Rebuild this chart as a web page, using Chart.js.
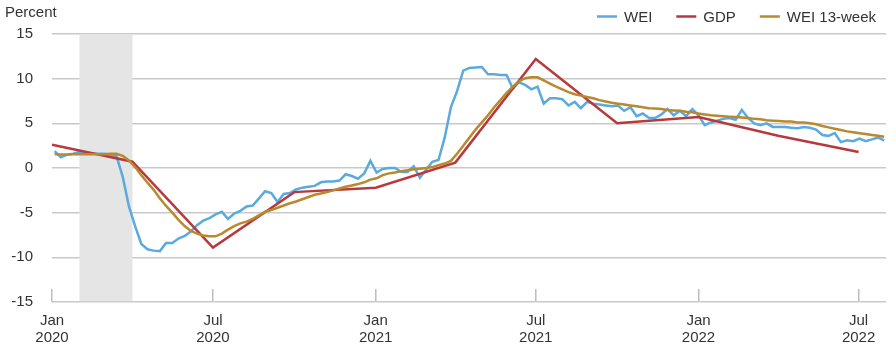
<!DOCTYPE html>
<html><head><meta charset="utf-8">
<script src="https://cdn.jsdelivr.net/npm/chart.js@4/dist/chart.umd.min.js"></script>
<style>html,body{margin:0;padding:0;background:#fff;}</style>
</head><body>
<canvas id="c" width="896" height="353"></canvas>
<script>
// ---- data ----
const SERIES_NAMES = ['WEI', 'GDP', 'WEI 13-week'];
const WEI_START = '2020-01-04'; // weekly, week-ending dates
const WEI = [1.9,1.2,1.5,1.6,1.8,1.7,1.6,1.6,1.6,1.5,
  1.3,-1.0,-4.3,-6.5,-8.5,-9.1,-9.25,-9.3,-8.4,-8.4,
  -7.9,-7.6,-7.1,-6.4,-5.9,-5.6,-5.2,-4.9,-5.7,-5.1,
  -4.8,-4.3,-4.2,-3.4,-2.6,-2.8,-3.8,-2.9,-2.8,-2.4,
  -2.2,-2.1,-2.0,-1.6,-1.5,-1.5,-1.4,-0.7,-0.9,-1.2,
  -0.6,0.8,-0.5,-0.1,0.0,0.0,-0.45,-0.45,0.2,-1.1,
  -0.2,0.7,0.9,3.4,6.8,8.6,10.9,11.2,11.25,11.3,
  10.5,10.5,10.4,10.4,8.9,9.6,9.3,8.8,9.1,7.2,
  7.8,7.8,7.7,7.0,7.4,6.7,7.4,7.2,7.1,7.0,
  6.9,7.0,6.4,6.8,5.8,6.1,5.6,5.6,6.0,6.6,
  5.9,6.4,5.8,6.6,5.9,4.8,5.1,5.3,5.5,5.6,
  5.4,6.5,5.6,5.0,4.8,5.0,4.6,4.6,4.6,4.5,
  4.45,4.6,4.5,4.3,3.7,3.6,3.9,2.9,3.1,3.0,
  3.3,3.0,3.2,3.4,3.1];
const WEI_13WK = [1.55,1.5,1.5,1.55,1.55,1.55,1.55,1.55,1.55,1.6,
  1.6,1.35,0.85,0.1,-0.8,-1.65,-2.45,-3.4,-4.25,-5.0,
  -5.8,-6.5,-7.05,-7.35,-7.55,-7.65,-7.65,-7.35,-6.9,-6.5,
  -6.2,-6.0,-5.7,-5.3,-4.9,-4.7,-4.45,-4.2,-3.95,-3.75,
  -3.5,-3.25,-3.0,-2.85,-2.7,-2.5,-2.3,-2.1,-1.95,-1.8,
  -1.6,-1.3,-1.15,-0.8,-0.6,-0.5,-0.35,-0.25,-0.15,-0.08,
  0.0,0.1,0.3,0.5,0.8,1.6,2.5,3.4,4.3,5.1,
  5.9,6.8,7.6,8.4,9.1,9.7,10.05,10.15,10.15,9.8,
  9.45,9.1,8.8,8.5,8.25,8.1,7.95,7.8,7.6,7.45,
  7.3,7.2,7.1,7.0,6.9,6.8,6.7,6.65,6.6,6.5,
  6.45,6.4,6.3,6.25,6.1,6.0,5.9,5.85,5.8,5.75,
  5.7,5.65,5.6,5.5,5.45,5.35,5.3,5.25,5.2,5.2,
  5.1,5.1,5.0,4.9,4.7,4.55,4.4,4.25,4.1,4.0,
  3.9,3.8,3.7,3.6,3.5];
const GDP_DATES = ['2020-01-01','2020-04-01','2020-07-01','2020-10-01','2021-01-01','2021-04-01',
  '2021-07-01','2021-10-01','2022-01-01','2022-04-01','2022-07-01'];
const GDP = [2.6,0.7,-8.9,-2.7,-2.2,0.6,12.2,5.0,5.7,3.6,1.8];
const X_TICK_DATES = ['2020-01-01','2020-07-01','2021-01-01','2021-07-01','2022-01-01','2022-07-01'];
const X_TICK_LABELS = [['Jan','2020'],['Jul','2020'],['Jan','2021'],['Jul','2021'],['Jan','2022'],['Jul','2022']];
const X_RANGE = ['2020-01-01','2022-08-01'];
const Y_TICKS = [-15,-10,-5,0,5,10,15];
const RECESSION = ['2020-02-01','2020-04-01'];
const Y_TITLE = 'Percent';

// ---- helpers ----
const T0 = Date.UTC(2020,0,1);
function dayOf(s){ const p = s.split('-').map(Number); return (Date.UTC(p[0],p[1]-1,p[2]) - T0)/86400000; }
const w0 = dayOf(WEI_START);
const tickDays = X_TICK_DATES.map(dayOf);
const FONT = "'Liberation Sans', Arial, Helvetica, sans-serif";
const TXT = '#333333';
const COLORS = ['#5aaadf', '#b8393b', '#b8892f'];

const decor = {
  id: 'decor',
  beforeDatasetsDraw(chart){
    const {ctx, chartArea:a, scales:{x}} = chart;
    const x1 = x.getPixelForValue(dayOf(RECESSION[0]));
    const x2 = x.getPixelForValue(dayOf(RECESSION[1]));
    ctx.save();
    ctx.fillStyle = '#e5e5e5';
    ctx.fillRect(x1, a.top, x2 - x1, a.bottom - a.top - 0.8);
    ctx.restore();
  },
  afterDraw(chart){
    const {ctx} = chart;
    ctx.save();
    ctx.font = '15px ' + FONT;
    ctx.fillStyle = TXT;
    ctx.textBaseline = 'alphabetic';
    ctx.textAlign = 'left';
    ctx.fillText(Y_TITLE, 5, 17);
    // legend, right aligned
    const ds = chart.data.datasets;
    let right = 876;
    const items = ds.map(d => ({label: d.label, color: d.borderColor, w: ctx.measureText(d.label).width}));
    const pos = [];
    for (let i = items.length - 1; i >= 0; i--) {
      const it = items[i];
      const start = right - it.w - 7 - 20;
      pos[i] = start;
      right = start - 24;
    }
    items.forEach((it, i) => {
      const sx = pos[i];
      ctx.strokeStyle = it.color;
      ctx.lineWidth = 2.5;
      ctx.beginPath();
      ctx.moveTo(sx, 16.5);
      ctx.lineTo(sx + 20, 16.5);
      ctx.stroke();
      ctx.fillStyle = TXT;
      ctx.fillText(it.label, sx + 27, 22);
    });
    ctx.restore();
  }
};

new Chart(document.getElementById('c').getContext('2d'), {
  type: 'line',
  data: {
    datasets: [
      {label: SERIES_NAMES[0], data: WEI.map((v,i)=>({x: w0 + 7*i, y: v})), borderColor: COLORS[0], borderWidth: 2.5, pointRadius: 0, tension: 0, order: 2},
      {label: SERIES_NAMES[1], data: GDP.map((v,i)=>({x: dayOf(GDP_DATES[i]), y: v})), borderColor: COLORS[1], borderWidth: 2.5, pointRadius: 0, tension: 0, order: 1},
      {label: SERIES_NAMES[2], data: WEI_13WK.map((v,i)=>({x: w0 + 7*i, y: v})), borderColor: COLORS[2], borderWidth: 2.5, pointRadius: 0, tension: 0, order: 0}
    ]
  },
  options: {
    responsive: false,
    animation: false,
    layout: {padding: {left: 0, right: 10, top: 34, bottom: 7}},
    plugins: {legend: {display: false}, tooltip: {enabled: false}},
    scales: {
      x: {
        type: 'linear',
        min: dayOf(X_RANGE[0]), max: dayOf(X_RANGE[1]),
        afterBuildTicks: s => { s.ticks = tickDays.map(v => ({value: v})); },
        afterFit: s => { s.height = 44; s.paddingLeft = 0; s.paddingRight = 0; },
        ticks: {
          autoSkip: false, maxRotation: 0, padding: 23, color: TXT,
          font: {family: FONT, size: 15, lineHeight: 1.133},
          callback: v => { const i = tickDays.indexOf(v); return i >= 0 ? X_TICK_LABELS[i] : ''; }
        },
        grid: {display: true, drawOnChartArea: false, drawTicks: true, tickLength: -13, color: '#bdbdbd', lineWidth: 1.5},
        border: {display: false}
      },
      y: {
        min: Y_TICKS[0], max: Y_TICKS[Y_TICKS.length - 1],
        afterBuildTicks: s => { s.ticks = Y_TICKS.map(v => ({value: v})); },
        afterFit: s => { s.width = 52; },
        ticks: {padding: 19, color: TXT, font: {family: FONT, size: 15}},
        grid: {color: '#c9c9c9', lineWidth: 1.5, drawTicks: false},
        border: {display: false}
      }
    }
  },
  plugins: [decor]
});
</script>
</body></html>
